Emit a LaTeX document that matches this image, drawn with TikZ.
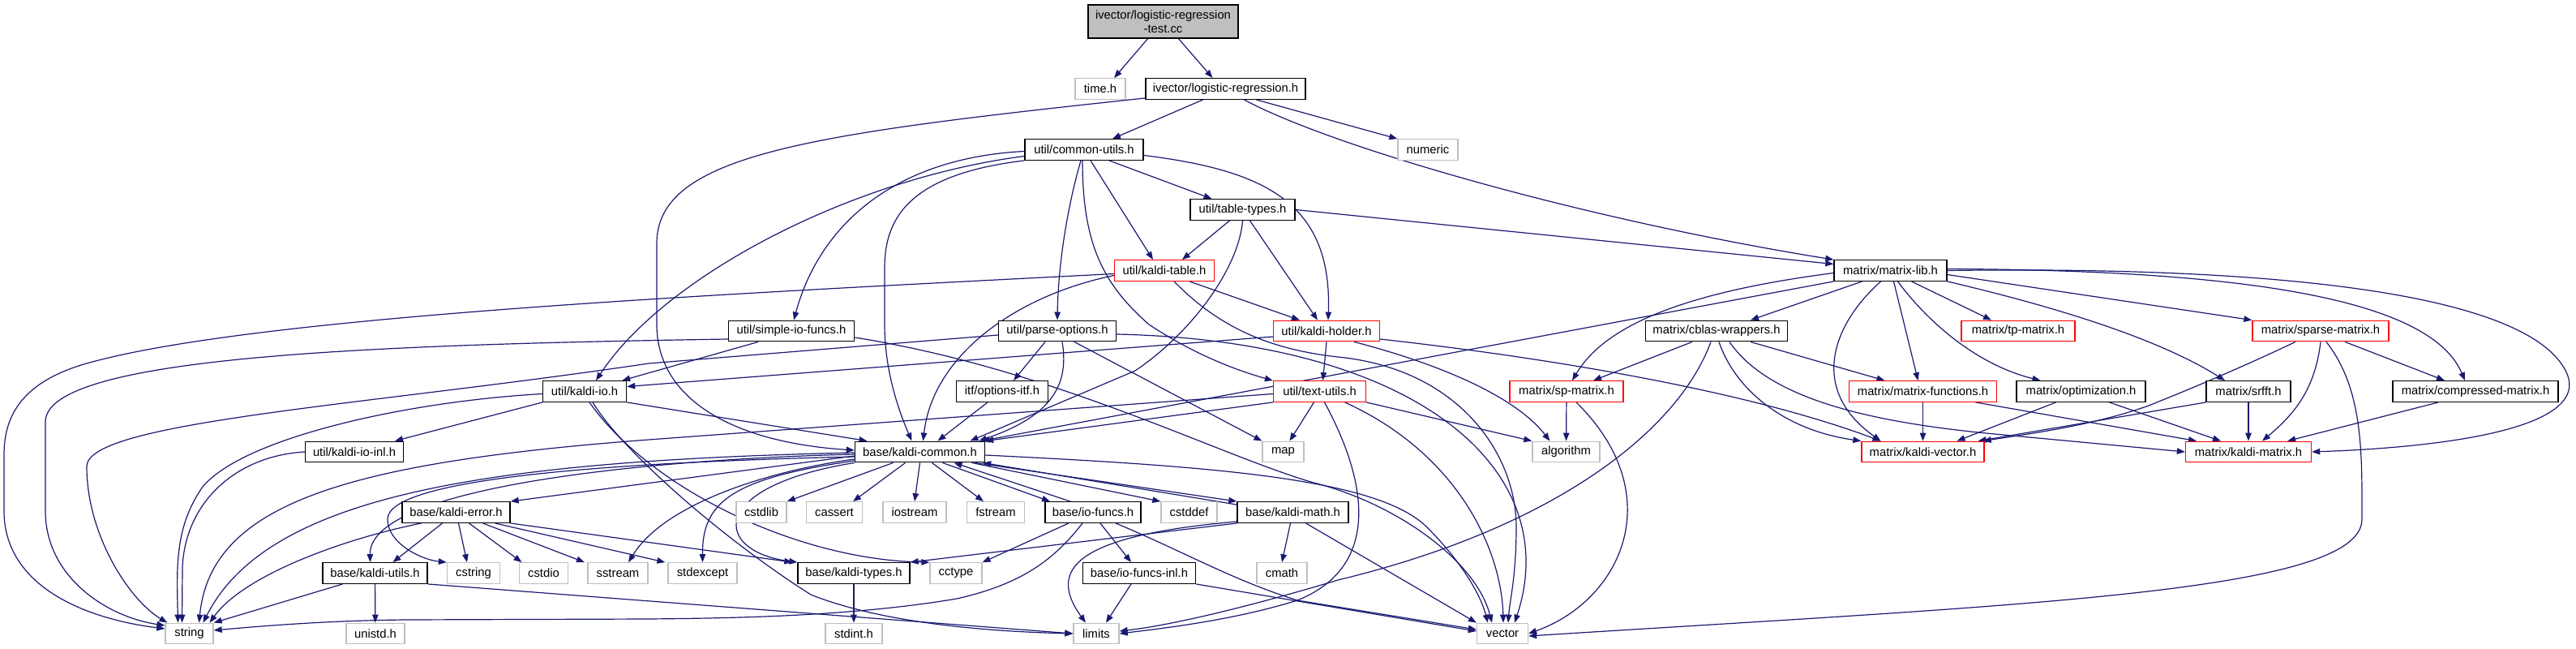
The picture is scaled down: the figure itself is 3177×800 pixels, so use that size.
\documentclass[tikz,border=0pt]{standalone}
\usepackage{fontspec}
\setmainfont{Liberation Sans}
\usetikzlibrary{arrows.meta}
\definecolor{edgec}{HTML}{191970}
\definecolor{grayb}{HTML}{BFBFBF}
\definecolor{redb}{HTML}{FF0000}
\pgfdeclarelayer{bg}
\pgfsetlayers{bg,main}
\tikzset{
  nblack/.style={draw=black, line width=1.4pt, fill=white, minimum height=25.5pt, inner sep=0pt, font=\fontsize{14.8pt}{17pt}\selectfont},
  ngray/.style={nblack, draw=grayb, line width=1.3pt},
  nred/.style={nblack, draw=redb, line width=1.3pt},
  arr/.style={draw=edgec, line width=1.2pt, -{Triangle[length=10pt,width=7.5pt]}},
}
\begin{document}
\begin{tikzpicture}[x=1pt,y=-1pt]
\useasboundingbox (0,0) rectangle (3177,800);
% row 0
\node[nblack, fill=grayb, minimum width=185pt, minimum height=41pt, align=center] (main) at (1434.5,26.5) {ivector/logistic-regression\\-test.cc};
% row 1
\node[ngray, minimum width=62pt] (timeh) at (1357,109.5) {time.h};
\node[nblack, minimum width=197pt] (lr) at (1511.5,109.5) {ivector/logistic-regression.h};
% row 2
\node[nblack, minimum width=146pt] (common) at (1337,184.5) {util/common-utils.h};
\node[ngray, minimum width=74pt] (numeric) at (1761,184.5) {numeric};
% row 3
\node[nblack, minimum width=129pt] (tabletypes) at (1532.5,258.5) {util/table-types.h};
% row 4
\node[nred, minimum width=123pt] (ktable) at (1436,333.5) {util/kaldi-table.h};
\node[nblack, minimum width=139pt] (mlib) at (2331.5,333.5) {matrix/matrix-lib.h};
% row 5
\node[nblack, minimum width=155pt] (simpleio) at (976,408) {util/simple-io-funcs.h};
\node[nblack, minimum width=145pt] (parseopt) at (1304,408) {util/parse-options.h};
\node[nred, minimum width=131pt] (holder) at (1636,408) {util/kaldi-holder.h};
\node[nblack, minimum width=175pt] (cblas) at (2117,408) {matrix/cblas-wrappers.h};
\node[nred, minimum width=140pt] (tpmatrix) at (2489,408) {matrix/tp-matrix.h};
\node[nred, minimum width=168pt] (sparse) at (2862,408) {matrix/sparse-matrix.h};
% row 6
\node[nblack, minimum width=103pt] (kaldiio) at (721,482.5) {util/kaldi-io.h};
\node[nblack, minimum width=113pt] (optionsitf) at (1236,482.5) {itf/options-itf.h};
\node[nred, minimum width=114pt] (textutils) at (1627.5,482.5) {util/text-utils.h};
\node[nred, minimum width=140pt] (spmatrix) at (1932,482.5) {matrix/sp-matrix.h};
\node[nred, minimum width=182pt] (mfunctions) at (2371.5,482.5) {matrix/matrix-functions.h};
\node[nblack, minimum width=159pt] (optimization) at (2566.5,482.5) {matrix/optimization.h};
\node[nblack, minimum width=104pt] (srfft) at (2773,482.5) {matrix/srfft.h};
\node[nblack, minimum width=204pt] (compressed) at (3053,482.5) {matrix/compressed-matrix.h};
% row 7
\node[nblack, minimum width=121pt] (kioinl) at (437,557) {util/kaldi-io-inl.h};
\node[nblack, minimum width=160pt] (kcommon) at (1134.5,557) {base/kaldi-common.h};
\node[ngray, minimum width=51pt] (map) at (1582.5,557) {map};
\node[ngray, minimum width=83pt] (algorithm) at (1931.5,557) {algorithm};
\node[nred, minimum width=151pt] (kvector) at (2371.5,557) {matrix/kaldi-vector.h};
\node[nred, minimum width=155pt] (kmatrix) at (2773,557) {matrix/kaldi-matrix.h};
% row 8
\node[nblack, minimum width=133pt] (kerror) at (562.5,631.5) {base/kaldi-error.h};
\node[ngray, minimum width=62pt] (cstdlib) at (939,631.5) {cstdlib};
\node[ngray, minimum width=69pt] (cassert) at (1029,631.5) {cassert};
\node[ngray, minimum width=78pt] (iostream) at (1128,631.5) {iostream};
\node[ngray, minimum width=71pt] (fstream) at (1228,631.5) {fstream};
\node[nblack, minimum width=118pt] (iofuncs) at (1348,631.5) {base/io-funcs.h};
\node[ngray, minimum width=69pt] (cstddef) at (1466.5,631.5) {cstddef};
\node[nblack, minimum width=137pt] (kmath) at (1594.5,631.5) {base/kaldi-math.h};
% row 9
\node[nblack, minimum width=129pt] (kutils) at (462.5,706.5) {base/kaldi-utils.h};
\node[ngray, minimum width=65pt] (cstring) at (584,706.5) {cstring};
\node[ngray, minimum width=60pt] (cstdio) at (670.5,706.5) {cstdio};
\node[ngray, minimum width=74pt] (sstream) at (762,706.5) {sstream};
\node[ngray, minimum width=85pt] (stdexcept) at (866.5,706.5) {stdexcept};
\node[nblack, minimum width=138pt] (ktypes) at (1053,706.5) {base/kaldi-types.h};
\node[ngray, minimum width=64pt] (cctype) at (1179,706.5) {cctype};
\node[nblack, minimum width=139pt] (iofuncsinl) at (1405,706.5) {base/io-funcs-inl.h};
\node[ngray, minimum width=62pt] (cmath) at (1581,706.5) {cmath};
% row 10
\node[ngray, minimum width=59pt] (string) at (233.5,781) {string};
\node[ngray, minimum width=72pt] (unistd) at (463,781) {unistd.h};
\node[ngray, minimum width=70pt] (stdint) at (1053,781) {stdint.h};
\node[ngray, minimum width=56pt] (limits) at (1352,781) {limits};
\node[ngray, minimum width=63pt] (vector) at (1853,781) {vector};

\begin{pgfonlayer}{bg}
% main
\draw[arr] ([xshift=-19pt]main.south) -- ([xshift=17pt]timeh.north);
\draw[arr] ([xshift=19pt]main.south) -- ([xshift=-16pt]lr.north);
% logistic-regression.h
\draw[arr] ([xshift=-28pt]lr.south) -- ([xshift=35pt]common.north);
\draw[arr] ([xshift=38pt]lr.south) -- (numeric.north west);
\draw[arr] ([xshift=23pt]lr.south) .. controls (1640,180) and (1950,270) .. (mlib.north west);
\draw[arr] ([yshift=2pt]lr.south west) .. controls (1000,165) and (810,190) .. (810,300) -- (810,400) .. controls (810,490) and (900,545) .. ([yshift=2pt]kcommon.west);
% common-utils.h
\draw[arr] ([yshift=-2pt]common.west) .. controls (1100,195) and (1010,280) .. ([xshift=3pt]simpleio.north);
\draw[arr] ([yshift=-8pt]common.west) .. controls (1050,220) and (820,340) .. ([xshift=14pt]kaldiio.north);
\draw[arr] (common.south west) .. controls (1120,215) and (1091,270) .. (1091,330) -- (1091,400) .. controls (1091,460) and (1110,510) .. ([xshift=-10pt]kcommon.north);
\draw[arr] ([xshift=-4pt]common.south) .. controls (1315,260) and (1305,330) .. (parseopt.north);
\draw[arr] ([xshift=-2pt]common.south) .. controls (1335,300) and (1360,350) .. (1417,400) .. controls (1470,435) and (1520,455) .. (textutils.north west);
\draw[arr] ([xshift=8pt]common.south) -- ([xshift=-14pt]ktable.north);
\draw[arr] ([xshift=31pt]common.south) -- ([xshift=-38pt]tabletypes.north);
\draw[arr] ([yshift=-7pt]common.east) .. controls (1560,210) and (1643,250) .. ([xshift=2pt]holder.north);
% table-types.h
\draw[arr] ([xshift=-16pt]tabletypes.south) -- ([xshift=22pt]ktable.north);
\draw[arr] (tabletypes.south) .. controls (1528,330) and (1470,410) .. (1400,457) -- ([xshift=62pt]kcommon.north);
\draw[arr] ([xshift=9pt]tabletypes.south) -- ([xshift=-11pt]holder.north);
\draw[arr] (tabletypes.east) -- ([yshift=8pt]mlib.west);
% kaldi-table.h
\draw[arr] ([yshift=-4pt]ktable.west) .. controls (900,362) and (300,390) .. (100,450) .. controls (30,472) and (5,510) .. (5,560) -- (5,630) .. controls (5,720) and (100,762) .. ([yshift=6pt]string.west);
\draw[arr] ([yshift=-6pt]ktable.west) .. controls (1250,365) and (1150,440) .. ([xshift=4pt]kcommon.north);
\draw[arr] ([xshift=31pt]ktable.south) -- ([xshift=-33pt]holder.north);
\draw[arr] ([xshift=12pt]ktable.south) .. controls (1500,400) and (1560,430) .. (1650,440) .. controls (1800,455) and (1870,560) .. (1870,650) .. controls (1870,710) and (1862,740) .. ([xshift=7pt]vector.north);
% simple-io-funcs.h
\draw[arr] ([yshift=-10pt]simpleio.west) .. controls (450,425) and (56,440) .. (56,520) -- (56,630) .. controls (56,710) and (130,760) .. ([yshift=10pt]string.west);
\draw[arr] ([xshift=-41pt]simpleio.south) -- ([xshift=-6pt]kaldiio.north east);
\draw[arr] ([yshift=-8pt]simpleio.east) .. controls (1300,455) and (1500,560) .. (1620,595) .. controls (1720,620) and (1820,690) .. ([xshift=-13pt]vector.north);
% parse-options.h
\draw[arr] ([yshift=-5pt]parseopt.west) -- (800,448) .. controls (450,500) and (107,520) .. (107,575) .. controls (107,660) and (160,740) .. ([xshift=3pt]string.north west);
\draw[arr] ([xshift=-15pt]parseopt.south) -- ([xshift=14pt]optionsitf.north);
\draw[arr] ([xshift=6pt]parseopt.south) .. controls (1320,480) and (1290,515) .. ([xshift=-8pt]kcommon.north east);
\draw[arr] ([xshift=21pt]parseopt.south) -- (map.north west);
\draw[arr] ([yshift=-4pt]parseopt.east) .. controls (1750,420) and (1930,580) .. ([xshift=15pt]vector.north);
% kaldi-holder.h
\draw[arr] ([yshift=-7pt]holder.west) -- ([yshift=6pt]kaldiio.east);
\draw[arr] (holder.south) -- ([xshift=4pt]textutils.north);
\draw[arr] ([xshift=34pt]holder.south) .. controls (1780,450) and (1870,490) .. ([xshift=-20pt]algorithm.north);
\draw[arr] ([yshift=-10pt]holder.east) .. controls (1900,440) and (2150,480) .. ([xshift=-52pt]kvector.north);
% kaldi-io.h
\draw[arr] ([yshift=-3pt]kaldiio.west) .. controls (500,495) and (300,540) .. (250,600) .. controls (215,650) and (218,700) .. ([xshift=-14pt]string.north);
\draw[arr] (kaldiio.south west) -- ([xshift=50pt]kioinl.north);
\draw[arr] (kaldiio.south east) -- ([xshift=-65pt]kcommon.north);
\draw[arr] ([xshift=6pt]kaldiio.south) .. controls (800,600) and (980,690) .. (cctype.north west);
\draw[arr] ([xshift=10pt]kaldiio.south) .. controls (770,560) and (900,670) .. (1000,733) .. controls (1080,765) and (1200,778) .. (limits.west);
% kaldi-io-inl.h
\draw[arr] (kioinl.west) .. controls (290,562) and (228,620) .. (225,700) -- ([xshift=-9pt]string.north);
% options-itf.h
\draw[arr] ([xshift=-18pt]optionsitf.south) -- ([xshift=22pt]kcommon.north);
% text-utils.h
\draw[arr] ([yshift=-3pt]textutils.west) -- (800,542) .. controls (430,570) and (260,620) .. ([xshift=12pt]string.north);
\draw[arr] (textutils.south west) -- (kcommon.north east);
\draw[arr] ([xshift=-7pt]textutils.south) -- ([xshift=8pt]map.north);
\draw[arr] ([xshift=6pt]textutils.south) .. controls (1690,600) and (1700,700) .. (1600,740) .. controls (1520,765) and (1430,775) .. (limits.east);
\draw[arr] ([xshift=31pt]textutils.south) .. controls (1800,560) and (1852,680) .. ([xshift=1pt]vector.north);
\draw[arr] (textutils.south east) -- (algorithm.north west);
% kaldi-common.h
\draw[arr] ([yshift=-5pt]kcommon.west) -- (kerror.north east);
\draw[arr] ([yshift=-3pt]kcommon.west) .. controls (800,566) and (455,600) .. ([xshift=-6pt]kutils.north);
\draw[arr] ([yshift=-6pt]kcommon.west) .. controls (750,570) and (478,590) .. (478,640) .. controls (478,670) and (520,690) .. (cstring.north west);
\draw[arr] ([yshift=-1pt]kcommon.west) .. controls (600,568) and (330,610) .. ([xshift=17pt]string.north);
\draw[arr] ([yshift=-9pt]kcommon.west) .. controls (950,580) and (820,620) .. ([xshift=13pt]sstream.north);
\draw[arr] ([yshift=-11pt]kcommon.west) .. controls (900,590) and (866,620) .. (stdexcept.north);
\draw[arr] (kcommon.south west) .. controls (870,600) and (880,680) .. (ktypes.north west);
\draw[arr] ([xshift=-33pt]kcommon.south) -- (cstdlib.north east);
\draw[arr] ([xshift=-18pt]kcommon.south) -- ([xshift=23pt]cassert.north);
\draw[arr] (kcommon.south) -- (iostream.north);
\draw[arr] ([xshift=15pt]kcommon.south) -- ([xshift=-15pt]fstream.north);
\draw[arr] ([xshift=28pt]kcommon.south) -- ([xshift=-53pt]iofuncs.north);
\draw[arr] ([xshift=64pt]kcommon.south) -- (cstddef.north west);
\draw[arr] ([xshift=68pt]kcommon.south) -- (kmath.north west);
\draw[arr] ([yshift=-4pt]kcommon.east) .. controls (1500,575) and (1700,590) .. (1760,650) .. controls (1800,690) and (1825,730) .. ([xshift=-18pt]vector.north);
% kaldi-error.h
\draw[arr] ([xshift=-43pt]kerror.south) .. controls (420,665) and (300,710) .. ([xshift=25pt]string.north);
\draw[arr] ([xshift=-17pt]kerror.south) -- ([xshift=22pt]kutils.north);
\draw[arr] ([xshift=3pt]kerror.south) -- ([xshift=-8pt]cstring.north);
\draw[arr] ([xshift=16pt]kerror.south) -- ([xshift=-27pt]cstdio.north);
\draw[arr] ([xshift=33pt]kerror.south) -- ([xshift=-41pt]sstream.north);
\draw[arr] ([xshift=48pt]kerror.south) -- ([xshift=-3pt]stdexcept.north west);
\draw[arr] (kerror.south east) -- ([xshift=-6pt]ktypes.north west);
% kaldi-utils.h
\draw[arr] ([xshift=-40pt]kutils.south) -- (string.north east);
\draw[arr] (kutils) -- (unistd);
\draw[arr] (kutils.south east) -- (limits.west);
% kaldi-types.h
\draw[arr] (ktypes) -- (stdint);
% io-funcs.h
\draw[arr] ([xshift=-28pt]iofuncs.north) -- ([xshift=42pt]kcommon.south);
\draw[arr] ([xshift=-30pt]iofuncs.south) -- (cctype.north east);
\draw[arr] ([xshift=-13pt]iofuncs.south) .. controls (1300,690) and (1260,720) .. (1180,738) .. controls (1050,760) and (900,762) .. (800,763) -- (500,764) .. controls (400,765) and (320,772) .. ([yshift=4pt]string.east);
\draw[arr] ([xshift=9pt]iofuncs.south) -- ([xshift=-10pt]iofuncsinl.north);
\draw[arr] ([xshift=28pt]iofuncs.south) .. controls (1460,680) and (1520,715) .. (1600,740) -- ([yshift=5pt]vector.west);
% io-funcs-inl.h
\draw[arr] ([xshift=-10pt]iofuncsinl.south) -- ([xshift=12pt]limits.north);
\draw[arr] (iofuncsinl.south east) -- ([yshift=3pt]vector.west);
% kaldi-math.h
\draw[arr] ([yshift=-4pt]kmath.north west) -- ([xshift=-3pt]kcommon.south east);
\draw[arr] (kmath.south west) -- (ktypes.north east);
\draw[arr] ([yshift=2pt]kmath.south west) .. controls (1330,660) and (1290,700) .. ([xshift=-13pt]limits.north);
\draw[arr] ([xshift=-3pt]kmath.south) -- (cmath.north);
\draw[arr] ([xshift=16pt]kmath.south) -- (vector.north west);
% matrix-lib.h
\draw[arr] ([xshift=-35pt]mlib.south) -- ([xshift=42pt]cblas.north);
\draw[arr] ([yshift=-3pt]mlib.west) .. controls (2080,360) and (1980,400) .. ([xshift=7pt]spmatrix.north);
\draw[arr] (mlib.south west) -- ([xshift=-5pt]kcommon.north east);
\draw[arr] ([xshift=-12pt]mlib.south) .. controls (2260,400) and (2230,480) .. ([xshift=-52pt]kvector.north);
\draw[arr] ([xshift=4pt]mlib.south) -- ([xshift=-6pt]mfunctions.north);
\draw[arr] ([xshift=9pt]mlib.south) .. controls (2380,400) and (2440,450) .. ([xshift=-50pt]optimization.north);
\draw[arr] ([xshift=26pt]mlib.south) -- ([xshift=-33pt]tpmatrix.north);
\draw[arr] (mlib.south east) .. controls (2500,370) and (2650,410) .. ([xshift=-29pt]srfft.north);
\draw[arr] ([yshift=-5pt]mlib.east) -- (sparse.north west);
\draw[arr] ([yshift=2pt]mlib.east) .. controls (2800,333) and (3000,375) .. ([xshift=-13pt]compressed.north);
\draw[arr] (mlib.east) .. controls (2800,328) and (3100,360) .. (3160,450) .. controls (3215,530) and (3000,552) .. (kmatrix.east);
% cblas-wrappers.h
\draw[arr] ([xshift=-30pt]cblas.south) -- ([xshift=33pt]spmatrix.north);
\draw[arr] ([xshift=-7pt]cblas.south) .. controls (2070,530) and (1920,650) .. (1650,715) .. controls (1550,745) and (1450,770) .. ([yshift=3pt]limits.east);
\draw[arr] ([xshift=3pt]cblas.south) .. controls (2140,480) and (2200,530) .. (kvector.north west);
\draw[arr] ([xshift=42pt]cblas.south) -- ([xshift=-47pt]mfunctions.north);
\draw[arr] ([xshift=16pt]cblas.south) .. controls (2180,490) and (2300,520) .. (2460,535) -- (kmatrix.west);
% sp-matrix.h
\draw[arr] (spmatrix) -- (algorithm);
\draw[arr] ([xshift=12pt]spmatrix.south) .. controls (2060,610) and (2000,740) .. (vector.east);
% matrix-functions.h
\draw[arr] (mfunctions) -- (kvector);
\draw[arr] ([xshift=65pt]mfunctions.south) -- ([xshift=-64pt]kmatrix.north);
% optimization.h
\draw[arr] ([xshift=-31pt]optimization.south) -- ([xshift=42pt]kvector.north);
\draw[arr] ([xshift=35pt]optimization.south) -- ([xshift=-34pt]kmatrix.north);
% srfft.h
\draw[arr] (srfft.south west) -- ([xshift=-8pt]kvector.north east);
\draw[arr] (srfft) -- (kmatrix);
% sparse-matrix.h
\draw[arr] ([xshift=-31pt]sparse.south) .. controls (2760,455) and (2700,480) .. (2650,500) .. controls (2580,525) and (2500,535) .. ([xshift=-2pt]kvector.north east);
\draw[arr] (sparse.south) .. controls (2855,480) and (2830,510) .. ([xshift=17pt]kmatrix.north);
\draw[arr] ([xshift=30pt]sparse.south) -- ([xshift=-38pt]compressed.north);
\draw[arr] ([xshift=7pt]sparse.south) .. controls (2915,480) and (2913,560) .. (2913,640) .. controls (2913,730) and (2500,745) .. ([yshift=-3pt]vector.east);
% compressed-matrix.h
\draw[arr] ([xshift=-46pt]compressed.south) -- ([xshift=-30pt]kmatrix.north east);
\end{pgfonlayer}
\end{tikzpicture}
\end{document}
